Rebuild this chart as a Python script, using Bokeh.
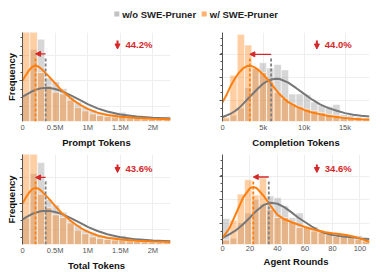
from bokeh.plotting import figure
from bokeh.layouts import column, row
from bokeh.models import Range1d, FixedTicker, Arrow, NormalHead
from bokeh.embed import file_html
from bokeh.resources import INLINE
from bokeh.core.properties import value
import numpy as np

# ---------------- data ----------------
legend_labels = ["w/o SWE-Pruner", "w/ SWE-Pruner"]

# Prompt tokens (millions)
prompt_xmax = 2.27
prompt_hist_wo = [0.30, 0.81, 0.925, 0.49, 0.45, 0.37, 0.27, 0.22, 0.16, 0.13, 0.10, 0.093, 0.085, 0.104, 0.067, 0.056, 0.048, 0.042, 0.042, 0.056]
prompt_hist_w = [1.30, 1.10, 0.55, 0.40, 0.33, 0.31, 0.24, 0.16, 0.12, 0.086, 0.067, 0.056, 0.05, 0.05, 0.04, 0.034, 0.03, 0.026, 0.022, 0.026]
prompt_kde_x = [0, 0.05, 0.1, 0.15, 0.2, 0.25, 0.3, 0.4, 0.5, 0.6, 0.75, 0.9, 1.0, 1.15, 1.3, 1.5, 1.75, 2.0, 2.27]
prompt_kde_wo = [0.28, 0.30, 0.32, 0.34, 0.355, 0.367, 0.375, 0.378, 0.366, 0.342, 0.29, 0.235, 0.195, 0.148, 0.112, 0.078, 0.055, 0.042, 0.035]
prompt_kde_w = [0.46, 0.52, 0.575, 0.615, 0.627, 0.615, 0.585, 0.51, 0.43, 0.35, 0.255, 0.18, 0.142, 0.10, 0.074, 0.054, 0.04, 0.032, 0.026]
prompt_median_wo, prompt_median_w = 0.355, 0.20
prompt_pct = "44.2%"
prompt_ticks = [0, 0.5, 1, 1.5, 2]
prompt_tick_labels = ["0", "0.5M", "1M", "1.5M", "2M"]

# Completion tokens (thousands)
comp_xmax = 18.0
comp_hist_wo = [0.03, 0.07, 0.15, 0.38, 0.60, 0.66, 0.60, 0.64, 0.58, 0.31, 0.31, 0.30, 0.22, 0.18, 0.17, 0.19, 0.08, 0.07, 0.05, 0.04]
comp_hist_w = [0.05, 0.52, 0.98, 0.86, 0.60, 0.55, 0.45, 0.33, 0.26, 0.20, 0.17, 0.14, 0.12, 0.10, 0.08, 0.07, 0.05, 0.04, 0.03, 0.03]
comp_kde_x = [0, 0.5, 1, 1.5, 2, 2.5, 3, 3.5, 4, 4.5, 5, 5.5, 6, 6.5, 7, 8, 9, 10, 11, 12, 13, 14, 15, 16, 17, 18]
comp_kde_wo = [0.05, 0.068, 0.087, 0.115, 0.15, 0.195, 0.245, 0.292, 0.34, 0.385, 0.426, 0.455, 0.472, 0.48, 0.478, 0.44, 0.377, 0.31, 0.245, 0.19, 0.15, 0.12, 0.094, 0.075, 0.064, 0.057]
comp_kde_w = [0.215, 0.30, 0.40, 0.48, 0.547, 0.596, 0.623, 0.625, 0.605, 0.57, 0.525, 0.475, 0.42, 0.36, 0.305, 0.22, 0.17, 0.13, 0.10, 0.08, 0.062, 0.05, 0.038, 0.03, 0.025, 0.022]
comp_median_wo, comp_median_w = 5.95, 3.35
comp_pct = "44.0%"
comp_ticks = [0, 5, 10, 15]
comp_tick_labels = ["0", "5k", "10k", "15k"]

# Total tokens (millions)
total_xmax = 2.27
total_hist_wo = [0.29, 0.79, 0.91, 0.50, 0.44, 0.36, 0.27, 0.22, 0.16, 0.13, 0.10, 0.09, 0.085, 0.10, 0.065, 0.055, 0.048, 0.042, 0.04, 0.05]
total_hist_w = [1.30, 1.10, 0.56, 0.41, 0.33, 0.30, 0.24, 0.16, 0.12, 0.085, 0.067, 0.056, 0.05, 0.048, 0.04, 0.034, 0.03, 0.026, 0.022, 0.025]
total_kde_x = [0, 0.05, 0.1, 0.15, 0.2, 0.25, 0.3, 0.4, 0.5, 0.6, 0.75, 0.9, 1.0, 1.15, 1.3, 1.5, 1.75, 2.0, 2.27]
total_kde_wo = [0.28, 0.30, 0.32, 0.34, 0.353, 0.364, 0.372, 0.374, 0.362, 0.34, 0.29, 0.235, 0.196, 0.15, 0.114, 0.08, 0.057, 0.044, 0.036]
total_kde_w = [0.455, 0.52, 0.575, 0.615, 0.63, 0.618, 0.588, 0.512, 0.43, 0.35, 0.255, 0.18, 0.143, 0.10, 0.075, 0.055, 0.041, 0.033, 0.027]
total_median_wo, total_median_w = 0.355, 0.20
total_pct = "43.6%"
total_ticks = [0, 0.5, 1, 1.5, 2]
total_tick_labels = ["0", "0.5M", "1M", "1.5M", "2M"]

# Agent rounds
rounds_xmax = 107.0
rounds_hist_wo = [0.29, 0.07, 0.24, 0.35, 0.50, 0.45, 0.54, 0.52, 0.43, 0.30, 0.35, 0.20, 0.20, 0.14, 0.11, 0.09, 0.09, 0.09, 0.10, 0.05]
rounds_hist_w = [0.05, 0.27, 0.56, 0.72, 0.55, 0.74, 0.39, 0.30, 0.30, 0.25, 0.19, 0.19, 0.15, 0.14, 0.11, 0.09, 0.10, 0.10, 0.06, 0.04]
rounds_kde_x = [0, 5, 10, 15, 20, 22.5, 25, 30, 35, 40, 45, 50, 55, 60, 65, 70, 75, 80, 85, 90, 95, 100, 107]
rounds_kde_wo = [0.075, 0.113, 0.16, 0.226, 0.30, 0.34, 0.377, 0.44, 0.464, 0.453, 0.415, 0.36, 0.30, 0.25, 0.20, 0.155, 0.125, 0.106, 0.094, 0.087, 0.08, 0.068, 0.06]
rounds_kde_w = [0.075, 0.18, 0.35, 0.52, 0.626, 0.64, 0.625, 0.54, 0.43, 0.33, 0.28, 0.25, 0.222, 0.195, 0.172, 0.152, 0.136, 0.125, 0.117, 0.106, 0.09, 0.068, 0.03]
rounds_median_wo, rounds_median_w = 33.7, 22.4
rounds_pct = "34.6%"
rounds_ticks = [0, 20, 40, 60, 80, 100]
rounds_tick_labels = ["0", "20", "40", "60", "80", "100"]

# ---------------- styling ----------------
FONT = "Liberation Sans"
GRAY_BAR = "#999999"
GRAY_LINE = "#777777"
ORANGE = "#ff7f0e"
RED = "#d62728"


def panel(xmax, hwo, hw, kx, kwo, kw, mwo, mw, pct, ticks, tlabels, xlabel, ylabel,
          fw, fh, bl, br, bt, bb, ymaj, ymin, arrow_y, icon_top, icon_bot, text_y):
    p = figure(frame_width=fw, frame_height=fh, min_border_left=bl, min_border_right=br,
               min_border_top=bt, min_border_bottom=bb,
               x_range=Range1d(0, xmax), y_range=Range1d(0, 1),
               toolbar_location=None, output_backend="svg")
    p.outline_line_color = None
    edges = np.linspace(0, xmax, len(hwo) + 1)
    p.quad(left=edges[:-1], right=edges[1:], bottom=0, top=hwo, fill_color=GRAY_BAR,
           fill_alpha=0.4, line_color="white", line_width=0.6)
    p.quad(left=edges[:-1], right=edges[1:], bottom=0, top=hw, fill_color=ORANGE,
           fill_alpha=0.38, line_color="white", line_width=0.6)
    p.line(kx, kwo, line_color=GRAY_LINE, line_width=2)
    p.line(kx, kw, line_color=ORANGE, line_width=2)
    p.segment(x0=[mwo], y0=[0], x1=[mwo], y1=[0.71], line_color="#808080",
              line_dash="3 2", line_width=1.8)
    p.segment(x0=[mw], y0=[0], x1=[mw], y1=[0.71], line_color=ORANGE,
              line_dash="3 2", line_width=1.8)
    p.add_layout(Arrow(end=NormalHead(size=5, fill_color=RED, line_color=RED, line_width=1),
                       x_start=mwo, y_start=arrow_y, x_end=mw, y_end=arrow_y,
                       line_color=RED, line_width=1.3))
    xi = 0.642 * xmax
    p.add_layout(Arrow(end=NormalHead(size=5, fill_color=RED, line_color=RED, line_width=1),
                       x_start=xi, y_start=icon_top, x_end=xi, y_end=icon_bot,
                       line_color=RED, line_width=2))
    p.text(x=[0.696 * xmax], y=[text_y], text=[pct], text_font=value(FONT),
           text_font_style="bold", text_font_size="9.5px", text_color=RED,
           text_baseline="middle", text_align="left")

    xa = p.xaxis[0]
    xa.ticker = FixedTicker(ticks=ticks)
    xa.major_label_overrides = {t: l for t, l in zip(ticks, tlabels)}
    xa.axis_line_color = None
    xa.major_tick_line_color = None
    xa.minor_tick_line_color = None
    xa.major_tick_out = 0
    xa.major_tick_in = 0
    xa.minor_tick_out = 0
    xa.minor_tick_in = 0
    xa.major_label_text_font = FONT
    xa.major_label_text_font_size = "7.5px"
    xa.major_label_text_color = "#555555"
    xa.major_label_standoff = 1
    xa.axis_label = xlabel
    xa.axis_label_text_font = FONT
    xa.axis_label_text_font_style = "bold"
    xa.axis_label_text_font_size = "9.5px"
    xa.axis_label_text_color = "#111111"
    xa.axis_label_standoff = 2

    ya = p.yaxis[0]
    ya.ticker = FixedTicker(ticks=ymaj, minor_ticks=ymin)
    ya.major_label_text_color = None
    ya.major_label_text_font_size = "1px"
    ya.major_label_standoff = 0
    ya.axis_line_color = "#555555"
    ya.major_tick_line_color = "#555555"
    ya.minor_tick_line_color = "#555555"
    ya.major_tick_out = 3
    ya.major_tick_in = 0
    ya.minor_tick_out = 2
    ya.minor_tick_in = 0
    if ylabel:
        ya.axis_label = ylabel
        ya.axis_label_text_font = FONT
        ya.axis_label_text_font_style = "bold"
        ya.axis_label_text_font_size = "9.5px"
        ya.axis_label_text_color = "#111111"
        ya.axis_label_standoff = 3
    p.xgrid.grid_line_color = "#eeeeee"
    p.ygrid.grid_line_color = "#eeeeee"
    return p


maj_a = [0.171, 0.459, 0.747]
min_a = list(np.round(np.arange(0.075, 1.0, 0.096), 3))
maj_b = [0.234, 0.498, 0.755]
min_b = list(np.round(np.arange(0.058, 1.0, 0.088), 3))

f1 = panel(prompt_xmax, prompt_hist_wo, prompt_hist_w, prompt_kde_x, prompt_kde_wo, prompt_kde_w,
           prompt_median_wo, prompt_median_w, prompt_pct, prompt_ticks, prompt_tick_labels,
           "Prompt Tokens", "Frequency", 148, 89, 22, 26, 6, 28, maj_a, min_a,
           0.76, 0.91, 0.815, 0.865)
f2 = panel(comp_xmax, comp_hist_wo, comp_hist_w, comp_kde_x, comp_kde_wo, comp_kde_w,
           comp_median_wo, comp_median_w, comp_pct, comp_ticks, comp_tick_labels,
           "Completion Tokens", None, 147, 89, 26, 10, 6, 28, maj_b, min_b,
           0.755, 0.91, 0.815, 0.865)
f3 = panel(total_xmax, total_hist_wo, total_hist_w, total_kde_x, total_kde_wo, total_kde_w,
           total_median_wo, total_median_w, total_pct, total_ticks, total_tick_labels,
           "Total Tokens", "Frequency", 148, 90, 22, 26, 4, 27, maj_a, min_a,
           0.745, 0.89, 0.80, 0.845)
f4 = panel(rounds_xmax, rounds_hist_wo, rounds_hist_w, rounds_kde_x, rounds_kde_wo, rounds_kde_w,
           rounds_median_wo, rounds_median_w, rounds_pct, rounds_ticks, rounds_tick_labels,
           "Agent Rounds", None, 147, 90, 26, 10, 4, 27, maj_b, min_b,
           0.75, 0.89, 0.80, 0.845)

# legend strip
lg = figure(width=379, height=26, x_range=Range1d(0, 379), y_range=Range1d(0, 26),
            toolbar_location=None, output_backend="svg", min_border=0)
lg.xaxis.visible = False
lg.yaxis.visible = False
lg.xgrid.visible = False
lg.ygrid.visible = False
lg.outline_line_color = None
lg.scatter(x=[116.3, 203.7], y=[12.5, 12.5], marker="square", size=5,
           fill_color=[GRAY_BAR, ORANGE], fill_alpha=0.6, line_color=None)
lg.text(x=[121.7, 209.3], y=[12.5, 12.5], text=legend_labels, text_font=value(FONT),
        text_font_style="bold", text_font_size="9.5px", text_color="#222222",
        text_baseline="middle", text_align="left")

layout = column(lg, row(f1, f2), row(f3, f4))
open("out.html", "w").write(file_html(layout, INLINE))
